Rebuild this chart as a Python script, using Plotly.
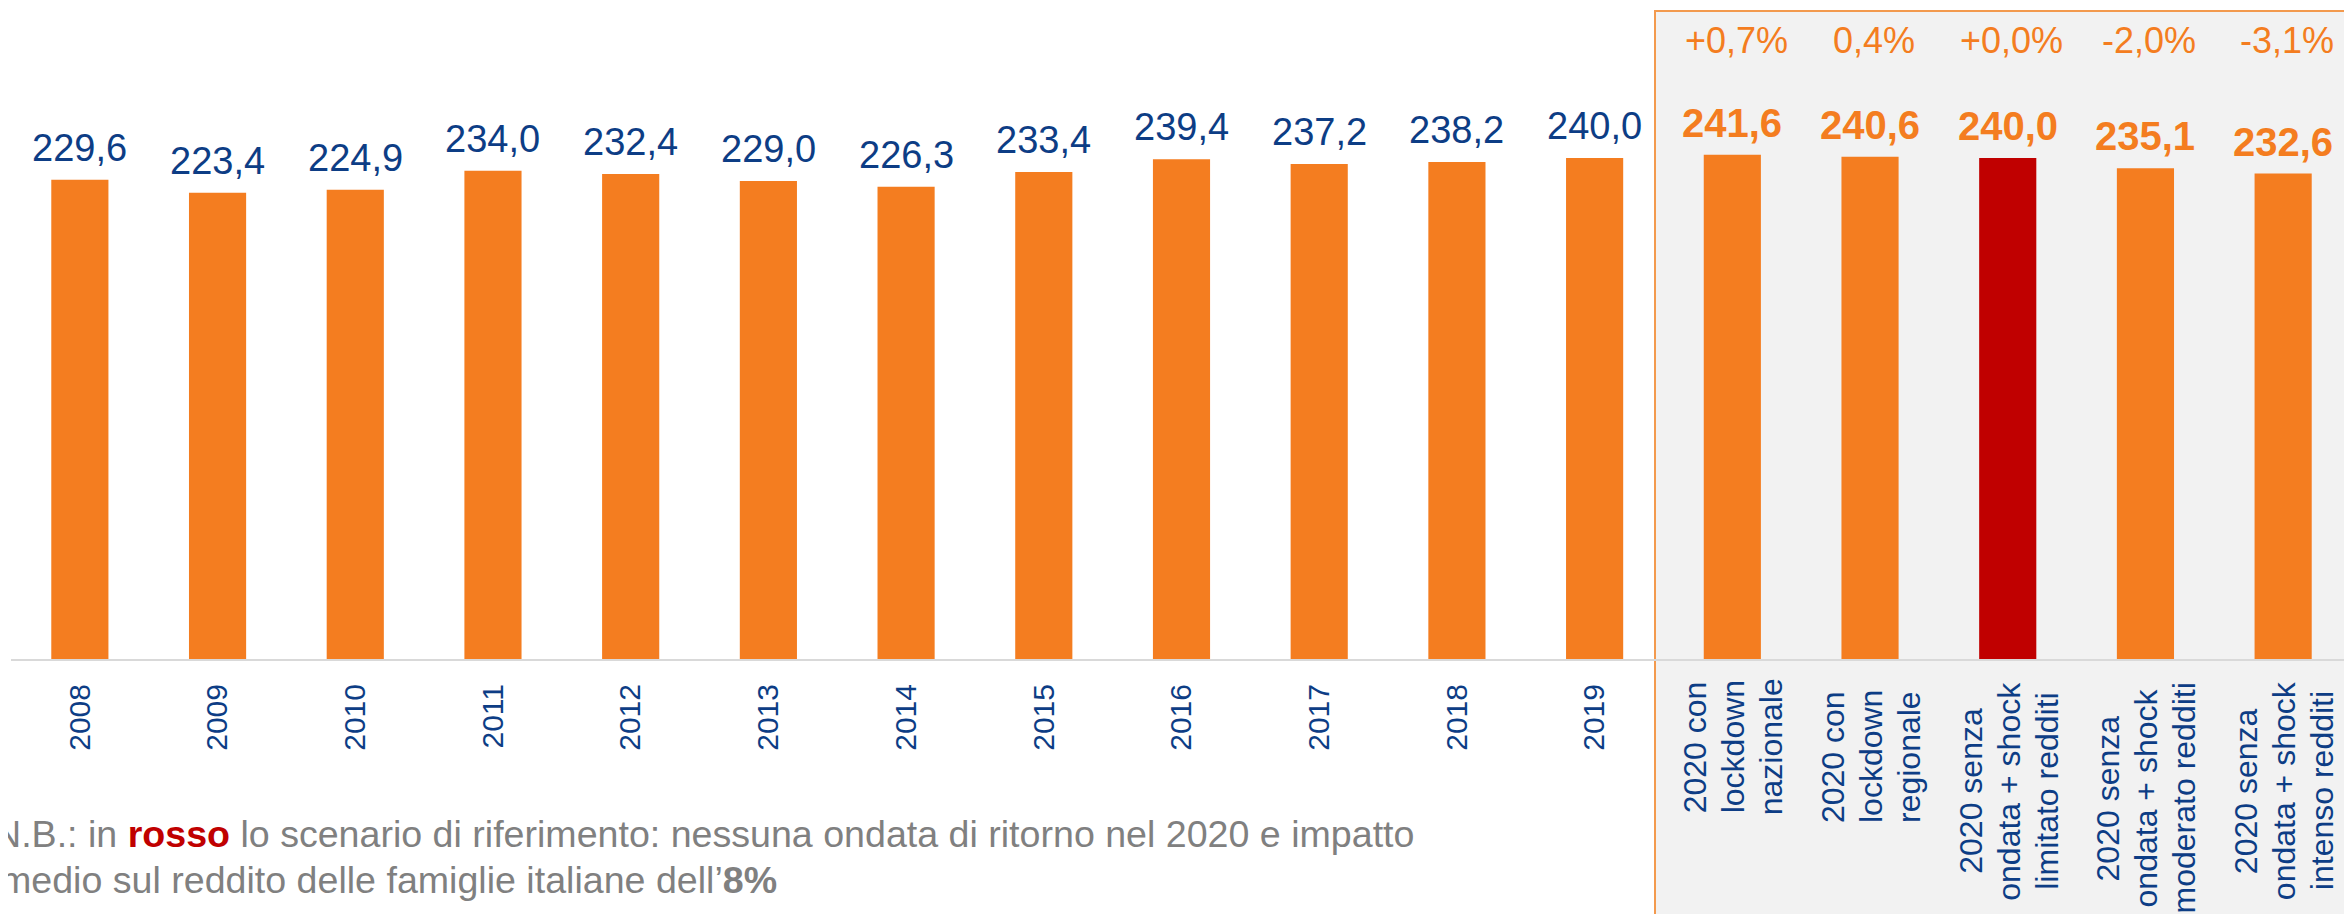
import plotly.graph_objects as go

# ---------------- data ----------------
years = ["2008", "2009", "2010", "2011", "2012", "2013", "2014", "2015",
         "2016", "2017", "2018", "2019"]
year_values = [229.6, 223.4, 224.9, 234.0, 232.4, 229.0, 226.3, 233.4,
               239.4, 237.2, 238.2, 240.0]

scenario_lines = [
    ["2020 con", "lockdown", "nazionale"],
    ["2020 con", "lockdown", "regionale"],
    ["2020 senza", "ondata + shock", "limitato redditi"],
    ["2020 senza", "ondata + shock", "moderato redditi"],
    ["2020 senza", "ondata + shock", "intenso redditi"],
]
scenario_values = [241.6, 240.6, 240.0, 235.1, 232.6]
scenario_changes = ["+0,7%", "0,4%", "+0,0%", "-2,0%", "-3,1%"]
reference_scenario = 2

note_line1 = ("N.B.: in <b><span style='color:#C00000'>rosso</span></b> lo scenario di "
              "riferimento: nessuna ondata di ritorno nel 2020 e impatto")
note_line2 = "medio sul reddito delle famiglie italiane dell\u2019<b>8%</b>"

# ---------------- layout constants ----------------
OFF = 8                      # default page body margin
W, H = 2352 - OFF, 914 - OFF
ML, MR, MT, MB = 11 - OFF, 0, 0, 255
PW, PH = W - ML - MR, H - MT - MB
PX_PER_UNIT = 2.087

ORANGE = "#F47D20"
RED = "#C00000"
BLUE = "#0D3D85"
GREY = "#808080"
FONT = "Liberation Sans, Arial, sans-serif"


def px_x(p):
    """page pixel -> paper x"""
    return (p - OFF - ML) / PW


def px_y(p):
    """page pixel -> paper y"""
    return (MT + PH - (p - OFF)) / PH


scenario_names = [" ".join(l) for l in scenario_lines]
categories = years + scenario_names
values = year_values + scenario_values
colors = [ORANGE] * len(years) + [RED if i == reference_scenario else ORANGE
                                  for i in range(len(scenario_values))]
year_idx = list(range(len(years)))
scen_idx = [len(years) + i for i in range(len(scenario_names))]


def fmt(v):
    return f"{v:.1f}".replace(".", ",")


fig = go.Figure()
fig.add_trace(go.Bar(
    x=categories, y=values, marker=dict(color=colors, line=dict(width=0)),
    hoverinfo="skip", showlegend=False,
))

annotations = []
# year value labels
for i, v in zip(year_idx, year_values):
    annotations.append(dict(
        x=i, y=v, xref="x", yref="y", text=fmt(v), showarrow=False,
        yanchor="middle", xanchor="center", yshift=32,
        font=dict(family=FONT, size=38, color=BLUE)))
# scenario value labels (bold orange)
for i, v in zip(scen_idx, scenario_values):
    annotations.append(dict(
        x=i, y=v, xref="x", yref="y", text="<b>" + fmt(v) + "</b>", showarrow=False,
        yanchor="middle", xanchor="center", yshift=32,
        font=dict(family=FONT, size=40, color=ORANGE)))
# percentage changes
for i, t in zip(scen_idx, scenario_changes):
    annotations.append(dict(
        x=i, y=px_y(40.5), xref="x", yref="paper", text=t, showarrow=False,
        yanchor="middle", xanchor="center", xshift=4,
        font=dict(family=FONT, size=36, color=ORANGE)))
# scenario category labels (rotated, one annotation per line, centred)
group_centres = [747, 757, 791, 798, 791]
line_offsets = [-37, 1, 39]
for i, lines, yc in zip(scen_idx, scenario_lines, group_centres):
    for ln, dx in zip(lines, line_offsets):
        annotations.append(dict(
            x=i, y=px_y(yc), xref="x", yref="paper", text=ln, showarrow=False,
            textangle=-90, xanchor="center", yanchor="middle", xshift=dx,
            font=dict(family=FONT, size=32, color=BLUE)))
# footnote
annotations.append(dict(
    x=px_x(-8), y=px_y(834.5), xref="paper", yref="paper", text=note_line1,
    showarrow=False, xanchor="left", yanchor="middle", align="left",
    font=dict(family=FONT, size=37.6, color=GREY)))
annotations.append(dict(
    x=px_x(-2), y=px_y(879.5), xref="paper", yref="paper", text=note_line2,
    showarrow=False, xanchor="left", yanchor="middle", align="left",
    font=dict(family=FONT, size=37.6, color=GREY)))

shapes = [dict(
    type="rect", xref="paper", yref="paper",
    x0=px_x(1655), x1=px_x(2370), y0=px_y(940), y1=px_y(11),
    fillcolor="#F2F2F2", line=dict(color="#F39A4E", width=2), layer="below")]

fig.update_layout(
    width=W, height=H,
    margin=dict(l=ML, r=MR, t=MT, b=MB, pad=0),
    paper_bgcolor="white", plot_bgcolor="rgba(0,0,0,0)",
    bargap=0.585,
    annotations=annotations, shapes=shapes,
    xaxis=dict(
        type="category", categoryorder="array", categoryarray=categories,
        range=[-0.5, len(categories) - 0.5], autorange=False,
        tickmode="array", tickvals=year_idx, ticktext=years,
        tickangle=-90, ticks="", showgrid=False, zeroline=False,
        showline=True, linecolor="#D9D9D9", linewidth=2,
        ticklabelstandoff=11,
        tickfont=dict(family=FONT, size=30, color=BLUE)),
    yaxis=dict(range=[0, PH / PX_PER_UNIT], visible=False, showgrid=False,
               zeroline=False),
)

fig.write_html("out.html", config={"displayModeBar": False})
